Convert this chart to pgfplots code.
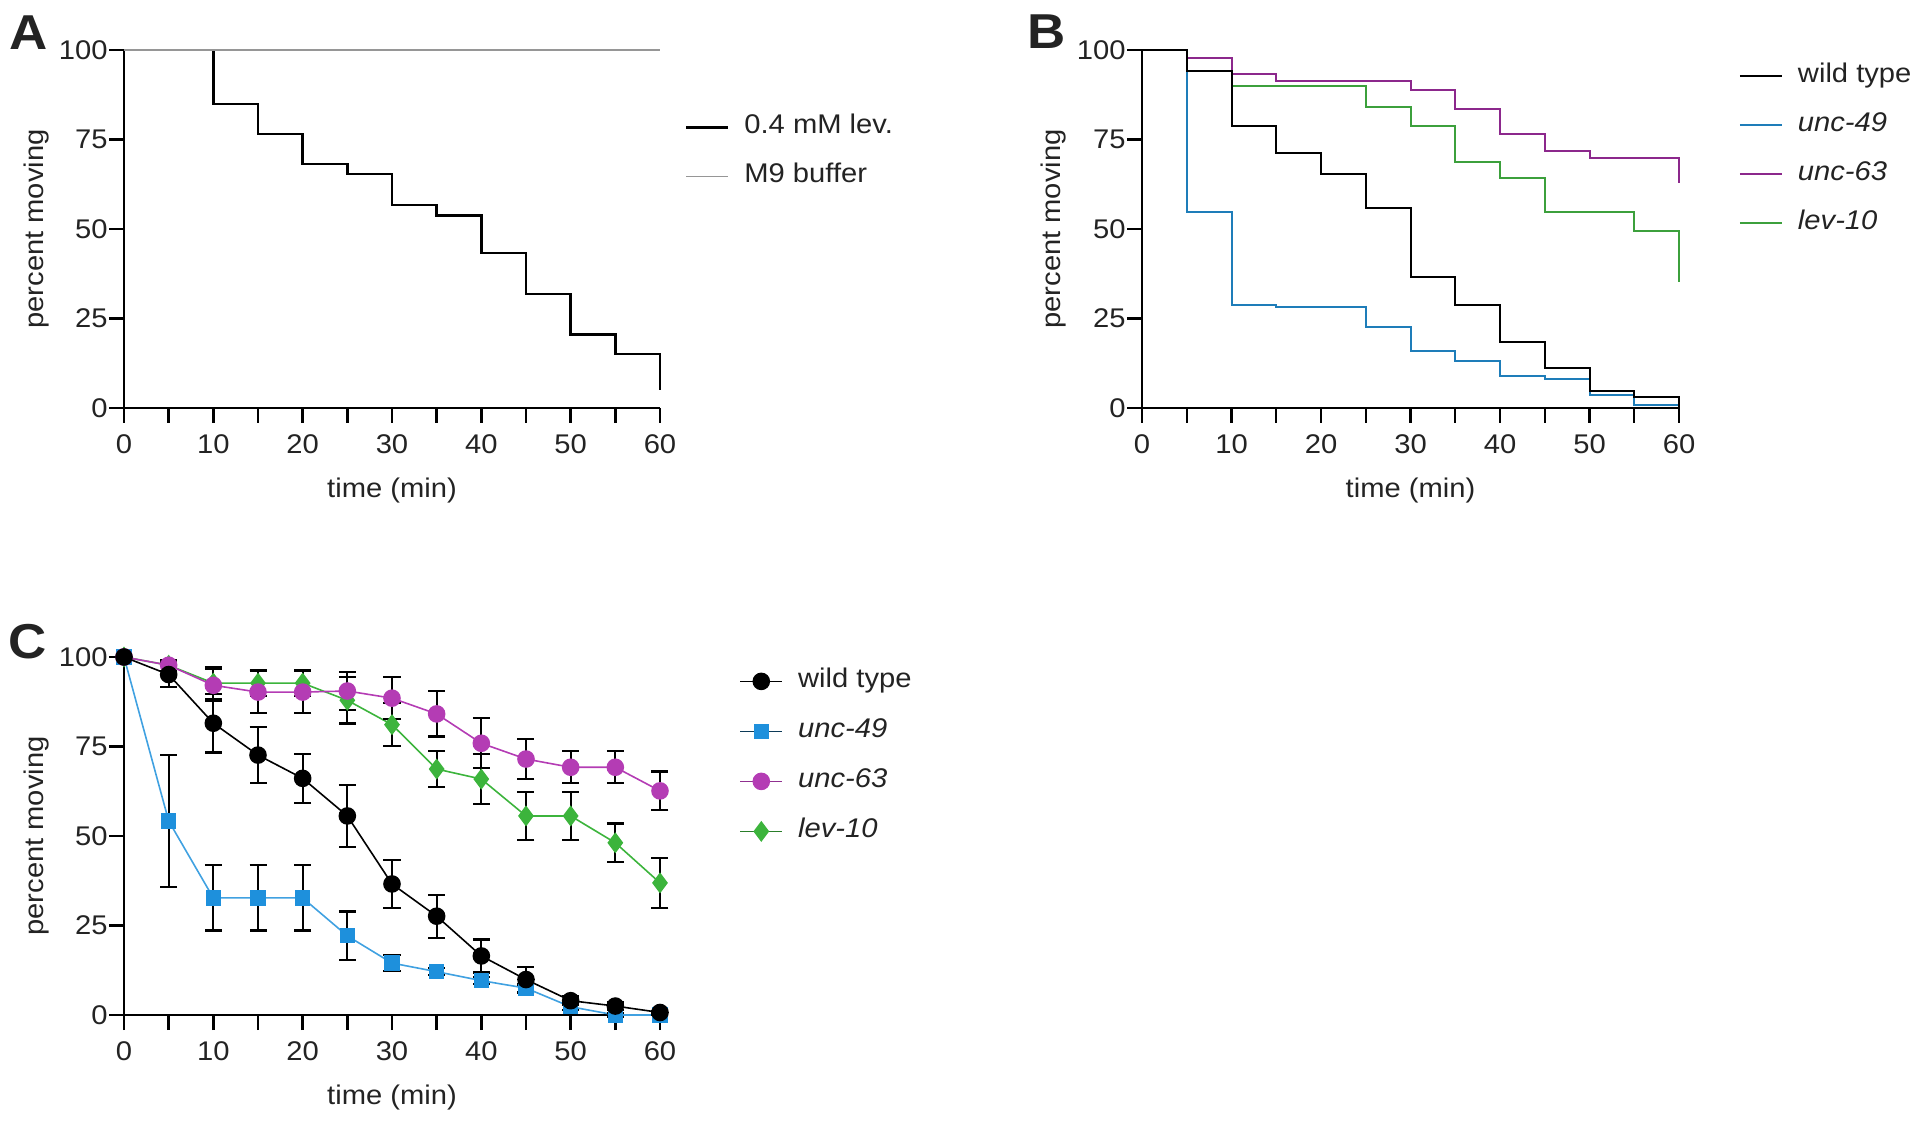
\documentclass[border=0pt]{standalone}
\usepackage{fontspec}
\setmainfont{Liberation Sans}[FakeStretch=1.08]
\usepackage{pgfplots}
\pgfplotsset{compat=1.18}
\definecolor{txt}{RGB}{35,35,35}
\definecolor{mgray}{RGB}{150,150,150}
\definecolor{bblue}{RGB}{30,125,185}
\definecolor{bpurple}{RGB}{140,40,140}
\definecolor{bgreen}{RGB}{60,160,60}
\definecolor{cblue}{RGB}{30,144,220}
\definecolor{cpurple}{RGB}{180,60,180}
\definecolor{cgreen}{RGB}{60,180,60}
\pgfplotsset{
  panel/.style={
    scale only axis, width=268pt, height=179pt,
    xmin=0, xmax=60, ymin=0, ymax=100,
    axis x line=bottom, axis y line=left,
    axis line style={-, line width=1.2pt, black},
    tick align=outside, major tick length=7.5pt, minor tick length=7.5pt,
    every tick/.style={black, line width=1.2pt},
    xtick={0,10,...,60}, minor xtick={5,15,...,55},
    ytick={0,25,50,75,100},
    /pgf/number format/assume math mode=true,
    tick label style={font=\fontsize{13.5}{15}\selectfont, text=txt},
    xticklabel style={yshift=-2.5pt},
    yticklabel style={xshift=2.8pt},
    label style={font=\fontsize{13.5}{15}\selectfont, text=txt},
    xlabel={time (min)}, ylabel={percent moving},
    xlabel style={at={(axis description cs:0.5,-0.23)}, anchor=center},
    ylabel style={at={(axis description cs:-0.164,0.5)}, anchor=center, rotate=0},
    clip=false,
    legend cell align=left,
    legend style={draw=none, fill=none, inner sep=0pt, outer sep=0pt,
      row sep=13pt, column sep=7.5pt, anchor=north west,
      nodes={inner sep=0pt, text height=9pt, text depth=2.5pt, text=txt,
        font=\fontsize{13.5}{15}\selectfont}},
  },
  lineleg/.style={legend image code/.code={\draw[##1] (0pt,0pt) -- (21pt,0pt);}},
  markleg/.style={legend image code/.code={\draw[##1, mark repeat=2, mark phase=2] plot coordinates {(0pt,0pt) (10.5pt,0pt) (21pt,0pt)};}},
}
\begin{document}
\begin{tikzpicture}
\path[use as bounding box] (0,0) rectangle (960pt,562pt);
\node[font=\fontsize{24.5}{26}\bfseries\selectfont, text=txt] at (14.25pt,545.75pt) {A};
\node[font=\fontsize{24.5}{26}\bfseries\selectfont, text=txt] at (523.5pt,546pt) {B};
\node[font=\fontsize{24.5}{26}\bfseries\selectfont, text=txt] at (13.8pt,241pt) {C};

% ---------------- Panel A
\begin{axis}[panel, lineleg, at={(62pt,358pt)}, anchor=south west,
  legend style={at={(axis cs:62.8,81.6)}}]
\addplot[black, line width=1.2pt, const plot] coordinates {
 (0,100) (10,84.9) (15,76.6) (20,68.2) (25,65.3) (30,56.7) (35,53.8)
 (40,43.3) (45,31.8) (50,20.5) (55,15.1) (60,5.1)};
\addlegendentry{0.4 mM lev.}
\addplot[mgray, line width=0.8pt] coordinates {(0,100) (60,100)};
\addlegendentry{M9 buffer}
\end{axis}

% ---------------- Panel B
\begin{axis}[panel, lineleg, at={(571pt,358pt)}, anchor=south west, width=268.5pt,
  legend style={at={(axis cs:66.7,96.0)}}]
\addlegendimage{black, line width=1pt}
\addlegendentry{wild type}
\addlegendimage{bblue, line width=1pt}
\addlegendentry{\itshape unc-49}
\addlegendimage{bpurple, line width=1pt}
\addlegendentry{\itshape unc-63}
\addlegendimage{bgreen, line width=1pt}
\addlegendentry{\itshape lev-10}
\addplot[bgreen, line width=1pt, const plot, forget plot] coordinates {
 (0,100) (5,97.7) (10,90.0) (15,90.0) (20,90.0) (25,84.0) (30,78.8) (35,68.8)
 (40,64.2) (45,54.7) (50,54.7) (55,49.3) (60,35.3)};
\addplot[bpurple, line width=1pt, const plot, forget plot] coordinates {
 (0,100) (5,97.7) (10,93.3) (15,91.2) (20,91.2) (25,91.2) (30,88.8) (35,83.4)
 (40,76.5) (45,71.9) (50,69.8) (55,69.8) (60,62.8)};
\addplot[bblue, line width=1pt, const plot, forget plot] coordinates {
 (0,100) (5,54.7) (10,28.8) (15,28.1) (20,28.1) (25,22.5) (30,15.8) (35,13.0)
 (40,9.0) (45,8.2) (50,3.7) (55,0.7) (60,0.7)};
\addplot[black, line width=1pt, const plot, forget plot] coordinates {
 (0,100) (5,94.0) (10,78.8) (15,71.2) (20,65.3) (25,56.0) (30,36.5) (35,28.8)
 (40,18.3) (45,11.3) (50,4.7) (55,3.0) (60,3.0) (60,0)};
\end{axis}

% ---------------- Panel C
\begin{axis}[panel, markleg, at={(62pt,54.5pt)}, anchor=south west,
  legend style={at={(axis cs:68.9,96.4)}, row sep=13.5pt},
  error bars/y dir=both, error bars/y explicit,
  error bars/error mark=-,
  error bars/error bar style={black, line width=1.1pt},
  error bars/error mark options={black, line width=1.1pt, mark size=4.25pt, rotate=90}]
\addlegendimage{black, line width=0.8pt, mark=*, mark size=4pt, mark options={fill=black}}
\addlegendentry{wild type}
\addlegendimage{black!60!cblue, line width=0.8pt, mark=square*, mark size=3.4pt, mark options={cblue, fill=cblue}}
\addlegendentry{\itshape unc-49}
\addlegendimage{cpurple!80!black, line width=0.8pt, mark=*, mark size=4pt, mark options={cpurple, fill=cpurple}}
\addlegendentry{\itshape unc-63}
\addlegendimage{cgreen!70!black, line width=0.8pt, mark=diamond*, mark size=4.6pt, mark options={cgreen, fill=cgreen}}
\addlegendentry{\itshape lev-10}
\addplot[cblue!85!white, line width=0.8pt, mark=square*, mark size=3.4pt,
  mark options={cblue, fill=cblue}, forget plot] coordinates {
 (0,100) +- (0,0) (5,54.2) +- (0,18.5) (10,32.7) +- (0,9.1) (15,32.7) +- (0,9.1)
 (20,32.7) +- (0,9.1) (25,22.1) +- (0,6.8) (30,14.5) +- (0,2.3) (35,12.1) +- (0,1)
 (40,9.6) +- (0,1) (45,7.5) +- (0,1) (50,2.3) +- (0,1) (55,0) +- (0,0.5) (60,0) +- (0,0)};
\addplot[cgreen, line width=0.8pt, mark=diamond*, mark size=4.6pt,
  mark options={cgreen, fill=cgreen}, forget plot] coordinates {
 (0,100) +- (0,0) (5,97.7) +- (0,1.5) (10,92.7) +- (0,4.5) (15,92.7) +- (0,3.7)
 (20,92.7) +- (0,3.7) (25,87.9) +- (0,6.5) (30,81.1) +- (0,6) (35,68.7) +- (0,5)
 (40,65.9) +- (0,7) (45,55.6) +- (0,6.8) (50,55.6) +- (0,6.8) (55,48.1) +- (0,5.4) (60,36.9) +- (0,7)};
\addplot[cpurple, line width=0.8pt, mark=*, mark size=4pt,
  mark options={cpurple, fill=cpurple}, forget plot] coordinates {
 (0,100) +- (0,0) (5,97.7) +- (0,1.5) (10,92.1) +- (0,4.5) (15,90.2) +- (0,5.8)
 (20,90.2) +- (0,5.8) (25,90.5) +- (0,5.2) (30,88.5) +- (0,5.9) (35,84.1) +- (0,6.3)
 (40,75.9) +- (0,7) (45,71.5) +- (0,5.6) (50,69.2) +- (0,4.5) (55,69.2) +- (0,4.5) (60,62.6) +- (0,5.4)};
\addplot[black, line width=0.8pt, mark=*, mark size=4pt,
  mark options={black, fill=black}, forget plot] coordinates {
 (0,100) +- (0,0) (5,95.1) +- (0,3.5) (10,81.5) +- (0,8.2) (15,72.6) +- (0,7.9)
 (20,66.1) +- (0,6.8) (25,55.6) +- (0,8.6) (30,36.6) +- (0,6.6) (35,27.6) +- (0,6)
 (40,16.5) +- (0,4.6) (45,9.9) +- (0,3.6) (50,4.0) +- (0,1.2) (55,2.5) +- (0,1) (60,0.7) +- (0,0.5)};
\end{axis}
\end{tikzpicture}
\end{document}
